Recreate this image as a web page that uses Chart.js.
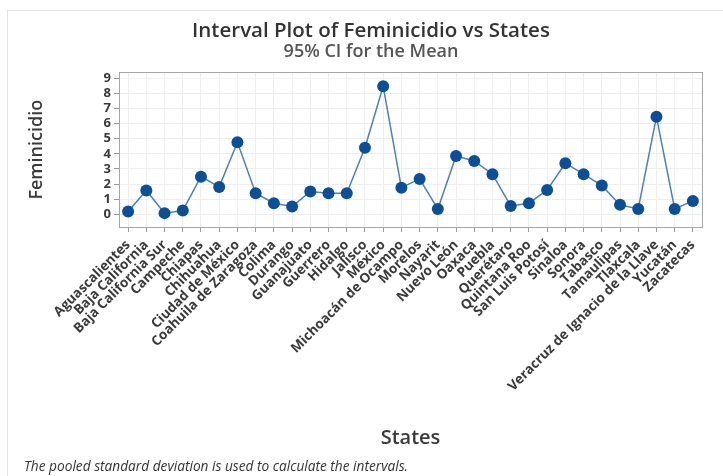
<!DOCTYPE html>
<html>
<head>
<meta charset="utf-8">
<script src="https://cdn.jsdelivr.net/npm/chart.js@4.4.1/dist/chart.umd.min.js"></script>
<style>
  html, body { margin: 0; padding: 0; background: #fff; }
  #wrap { position: relative; width: 723px; height: 476px; overflow: hidden; }
  #frame { position: absolute; left: 7px; top: 10px; right: -5px; bottom: -5px;
           border-top: 1px solid #e4e4e4; border-left: 1px solid #e4e4e4; }
  #note { position: absolute; left: 24px; top: 456px; font: italic 13.7px "Open Sans", sans-serif;
          color: #333; white-space: nowrap; }
  canvas { position: absolute; left: 0; top: 0; }
</style>
</head>
<body>
<div id="wrap">
  <div id="frame"></div>
  <canvas id="chart" width="723" height="476"></canvas>
  <div id="note">The pooled standard deviation is used to calculate the intervals.</div>
</div>
<script>
var states = [
  'Aguascalientes', 'Baja California', 'Baja California Sur', 'Campeche', 'Chiapas',
  'Chihuahua', 'Ciudad de México', 'Coahuila de Zaragoza', 'Colima', 'Durango',
  'Guanajuato', 'Guerrero', 'Hidalgo', 'Jalisco', 'México', 'Michoacán de Ocampo',
  'Morelos', 'Nayarit', 'Nuevo León', 'Oaxaca', 'Puebla', 'Querétaro', 'Quintana Roo',
  'San Luis Potosí', 'Sinaloa', 'Sonora', 'Tabasco', 'Tamaulipas', 'Tlaxcala',
  'Veracruz de Ignacio de la Llave', 'Yucatán', 'Zacatecas'
];
var means = [
  0.18, 1.57, 0.07, 0.24, 2.49, 1.81, 4.77, 1.39, 0.73, 0.51,
  1.50, 1.39, 1.39, 4.41, 8.49, 1.76, 2.34, 0.35, 3.86, 3.53,
  2.65, 0.55, 0.73, 1.61, 3.38, 2.65, 1.90, 0.62, 0.35, 6.46,
  0.35, 0.88
];
var yTicks = [0, 1, 2, 3, 4, 5, 6, 7, 8, 9];

var textColor = '#3a3a3a';

// grey box round the plot area
var plotFrame = {
  id: 'plotFrame',
  beforeDatasetsDraw: function (chart) {
    var a = chart.chartArea, ctx = chart.ctx;
    ctx.save();
    ctx.strokeStyle = '#a6a6a6';
    ctx.lineWidth = 1;
    ctx.strokeRect(Math.round(a.left) + 0.5, Math.round(a.top) + 0.5,
      Math.round(a.right - a.left), Math.round(a.bottom - a.top));
    ctx.restore();
  }
};

new Chart(document.getElementById('chart'), {
  type: 'line',
  data: {
    labels: states,
    datasets: [{
      label: 'Feminicidio',
      data: means,
      borderColor: '#4d7fbd',
      borderWidth: 1.5,
      pointBackgroundColor: '#0b4f97',
      pointBorderColor: '#0b4f97',
      pointRadius: 6,
      pointBorderWidth: 0,
      tension: 0,
      fill: false
    }]
  },
  options: {
    responsive: false,
    animation: false,
    layout: { padding: { left: 20, right: 1, top: 0, bottom: 24 } },
    plugins: {
      legend: { display: false },
      tooltip: { enabled: false },
      title: {
        display: true,
        text: 'Interval Plot of Feminicidio vs States',
        color: '#333',
        font: { family: 'Open Sans', size: 20.5, weight: 600, lineHeight: 1.1 },
        padding: { top: 20, bottom: 0 }
      },
      subtitle: {
        display: true,
        text: '95% CI for the Mean',
        color: '#555',
        font: { family: 'Open Sans', size: 18, weight: 600, lineHeight: 1.05 },
        padding: { top: 0, bottom: 11 }
      }
    },
    scales: {
      x: {
        type: 'category',
        offset: true,
        border: { display: false },
        grid: { color: '#eeeeee', tickColor: '#9a9a9a', tickLength: 5, offset: false },
        ticks: {
          autoSkip: false,
          maxRotation: 45,
          minRotation: 45,
          padding: 5,
          color: textColor,
          font: { family: 'Open Sans', size: 13.5, weight: 'bold' }
        },
        title: {
          display: true,
          text: 'States',
          color: textColor,
          font: { family: 'Open Sans', size: 20, weight: 600 },
          padding: { top: 0, bottom: 2 }
        },
        afterFit: function (scale) { scale.height = 225; }
      },
      y: {
        min: -0.85,
        max: 9.4,
        border: { display: false },
        grid: { color: '#eeeeee', tickColor: '#9a9a9a', tickLength: 5 },
        ticks: {
          autoSkip: false,
          padding: 3,
          color: textColor,
          font: { family: 'Open Sans', size: 13, weight: 'bold' }
        },
        afterBuildTicks: function (scale) {
          scale.ticks = yTicks.map(function (v) { return { value: v }; });
        },
        title: {
          display: true,
          text: 'Feminicidio',
          color: textColor,
          font: { family: 'Open Sans', size: 18, weight: 600 },
          padding: { top: 6, bottom: 0 }
        },
        afterFit: function (scale) { scale.width = 99; }
      },
      // empty right-hand strip so the plot ends where the reference does
      yRight: {
        position: 'right',
        display: true,
        border: { display: false },
        grid: { display: false },
        ticks: { display: false },
        afterFit: function (scale) { scale.width = 20; }
      }
    }
  },
  plugins: [plotFrame]
});
</script>
</body>
</html>
